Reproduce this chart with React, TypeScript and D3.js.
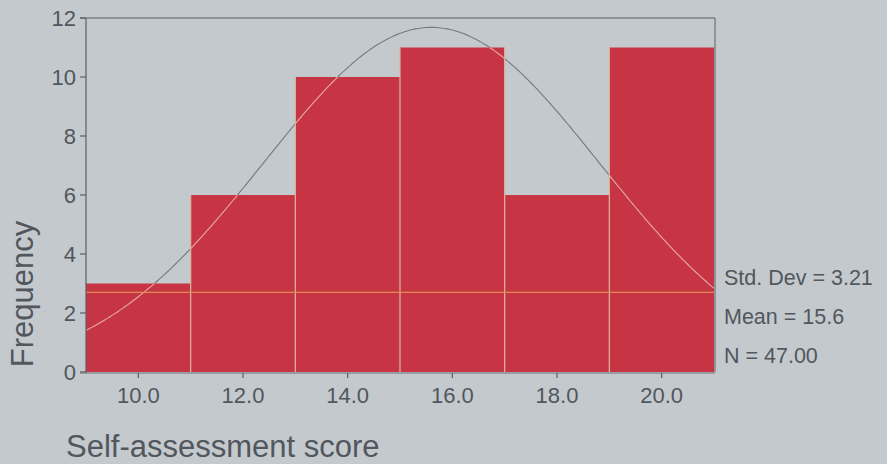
import React from "react";
import * as d3 from "d3";

// Histogram bins (score ranges) and their counts
const binStarts = [9, 11, 13, 15, 17, 19];
const binWidth = 2;
const counts = [3, 6, 10, 11, 6, 11];
const xTicks = [10, 12, 14, 16, 18, 20];
const yTicks = [0, 2, 4, 6, 8, 10, 12];
const referenceLevel = [2.7];
const statLabels = ["Std. Dev = 3.21", "Mean = 15.6", "N = 47.00"];
const stdDev = 3.21;
const mean = 15.6;
const nCases = 47;

const W = 887;
const H = 464;
const FONT = "'Liberation Sans', Arial, sans-serif";
const TEXT = "#51575d";

export default function App() {
  const x = d3.scaleLinear().domain([9, 21]).range([86, 714]);
  const y = d3.scaleLinear().domain([0, 12]).range([372, 18]);

  // Normal curve fitted to the stated mean, std. dev and N
  const density = (v: number) =>
    (nCases * binWidth) / (stdDev * Math.sqrt(2 * Math.PI)) *
    Math.exp(-0.5 * ((v - mean) / stdDev) ** 2);
  const curvePts = d3.range(9, 21.001, 0.05).map((v) => [v, density(v)] as [number, number]);
  const line = d3
    .line<[number, number]>()
    .x((d) => x(d[0]))
    .y((d) => y(d[1]))
    .curve(d3.curveBasis);
  const curvePath = line(curvePts) || "";

  const barColor = "#c73545";

  return (
    <div style={{ position: "fixed", left: 0, top: 0 }}>
      <svg width={W} height={H} style={{ display: "block", fontFamily: FONT }}>
        <defs>
          <clipPath id="barsClip">
            {binStarts.map((b, i) => (
              <rect
                key={i}
                x={x(b)}
                y={y(counts[i])}
                width={x(b + binWidth) - x(b)}
                height={y(0) - y(counts[i])}
              />
            ))}
          </clipPath>
        </defs>
        <rect x={0} y={0} width={W} height={H} fill="#c4c9cd" />

        {/* frame */}
        <line x1={x(9) - 6} x2={x(21) + 1} y1={y(12)} y2={y(12)} stroke="#5b6065" strokeWidth={1.2} />
        <line x1={x(21) + 1} x2={x(21) + 1} y1={y(12)} y2={y(0)} stroke="#5b6065" strokeWidth={1} />

        {/* curve behind bars */}
        <path d={curvePath} fill="none" stroke="#737a81" strokeWidth={1.1} />

        {/* bars */}
        {binStarts.map((b, i) => (
          <rect
            key={i}
            x={x(b)}
            y={y(counts[i])}
            width={x(b + binWidth) - x(b)}
            height={y(0) - y(counts[i])}
            fill={barColor}
          />
        ))}
        {/* bar separators */}
        {binStarts.slice(1).map((b, i) => (
          <line
            key={i}
            x1={x(b)}
            x2={x(b)}
            y1={y(Math.max(counts[i], counts[i + 1]))}
            y2={y(0)}
            stroke="#d9b79f"
            strokeWidth={1.2}
          />
        ))}

        {/* curve over bars */}
        <path d={curvePath} fill="none" stroke="#e2aaa8" strokeWidth={1.1} clipPath="url(#barsClip)" />

        {/* reference level */}
        {referenceLevel.map((r, i) => (
          <line key={i} x1={x(9)} x2={x(21)} y1={y(r)} y2={y(r)} stroke="#de8a55" strokeWidth={1.3} />
        ))}

        {/* axes */}
        <line x1={x(9)} x2={x(9)} y1={y(12)} y2={y(0) + 1} stroke="#5b6065" strokeWidth={1.2} />
        <line x1={x(9) - 6} x2={x(21) + 1} y1={y(0) + 1} y2={y(0) + 1} stroke="#6a7075" strokeWidth={1} />
        {yTicks.map((t) => (
          <g key={t}>
            <line x1={x(9) - 6} x2={x(9)} y1={y(t)} y2={y(t)} stroke="#5b6065" strokeWidth={1.2} />
            <text x={x(9) - 10} y={y(t)} dy="0.36em" textAnchor="end" fontSize={22} fill={TEXT}>
              {t}
            </text>
          </g>
        ))}
        {xTicks.map((t) => (
          <g key={t}>
            <line x1={x(t)} x2={x(t)} y1={y(0) + 1} y2={y(0) + 6} stroke="#5b6065" strokeWidth={1.2} />
            <text x={x(t)} y={403} textAnchor="middle" fontSize={22} fill={TEXT}>
              {t.toFixed(1)}
            </text>
          </g>
        ))}

        {/* axis titles */}
        <text
          transform={`translate(33, 294) rotate(-90)`}
          textAnchor="middle"
          fontSize={31}
          fill={TEXT}
        >
          Frequency
        </text>
        <text x={66} y={457} fontSize={31} fill={TEXT}>
          Self-assessment score
        </text>

        {/* statistics */}
        {statLabels.map((s, i) => (
          <text key={i} x={724} y={285 + i * 39} fontSize={21.5} fill={TEXT}>
            {s}
          </text>
        ))}
      </svg>
    </div>
  );
}
